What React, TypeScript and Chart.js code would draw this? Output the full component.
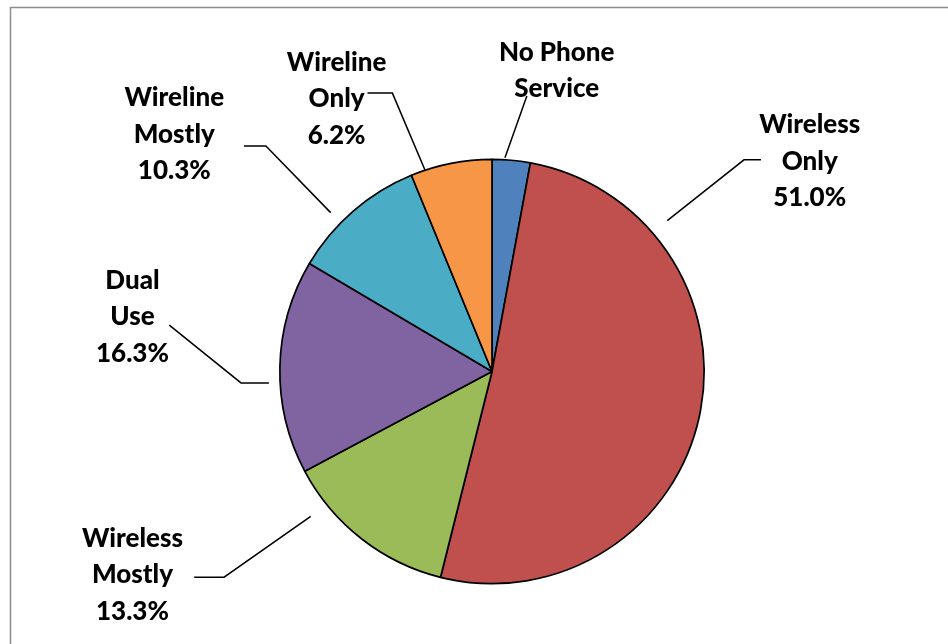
import React, { useEffect, useRef } from "react";
import { Chart, registerables } from "chart.js";

Chart.register(...registerables);

const categories = [
  "No Phone Service",
  "Wireless Only",
  "Wireless Mostly",
  "Dual Use",
  "Wireline Mostly",
  "Wireline Only",
];
const shares = [2.9, 51.0, 13.3, 16.3, 10.3, 6.2];
const labelLines = [
  ["No Phone", "Service"],
  ["Wireless", "Only"],
  ["Wireless", "Mostly"],
  ["Dual", "Use"],
  ["Wireline", "Mostly"],
  ["Wireline", "Only"],
];
const showPercent = [false, true, true, true, true, true];
const sliceColors = ["#4F81BD", "#C0504D", "#9BBB59", "#8064A2", "#4BACC6", "#F79646"];

// label layout, offsets from pie centre in px at reference radius 213
const REF_R = 213;
const labelAnchors: [number, number][] = [
  [65, -320.5],
  [319, -247.5],
  [-361, 167.5],
  [-361, -91.5],
  [-319, -274.5],
  [-156, -310.5],
];
const leaderPaths: [number, number][][] = [
  [[13, -214.5], [35, -276.5]],
  [[176, -151.5], [253, -212.5], [270, -212.5]],
  [[-182, 145.5], [-269, 206.5], [-299, 206.5]],
  [[-224, 11.5], [-252, 11.5], [-324, -46.5]],
  [[-162, -159.5], [-227, -226.5], [-249, -226.5]],
  [[-67, -201.5], [-100, -279.5], [-125, -279.5]],
];

const FONT = "900 26px Lato, 'Open Sans', sans-serif";
const LINE_H = 36.5;

const labelPlugin = {
  id: "pieLabels",
  afterDraw(chart: any) {
    const ctx = chart.ctx;
    const meta = chart.getDatasetMeta(0);
    const arc0 = meta.data[0];
    if (!arc0) return;
    const cx = arc0.x;
    const cy = arc0.y;
    const k = arc0.outerRadius / REF_R;
    ctx.save();
    // frame
    ctx.strokeStyle = "#8c8c8c";
    ctx.lineWidth = 1.5;
    ctx.strokeRect(10.5, 7.5, 2000, 2000);
    // leaders
    ctx.strokeStyle = "#000";
    ctx.lineWidth = 1.5;
    leaderPaths.forEach((path) => {
      ctx.beginPath();
      path.forEach(([dx, dy], i) => {
        const x = cx + dx * k;
        const y = cy + dy * k;
        if (i === 0) ctx.moveTo(x, y);
        else ctx.lineTo(x, y);
      });
      ctx.stroke();
    });
    // text
    ctx.fillStyle = "#000";
    ctx.font = FONT;
    ctx.textAlign = "center";
    ctx.textBaseline = "middle";
    const values = chart.data.datasets[0].data as number[];
    labelLines.forEach((lines, i) => {
      const texts = [...lines];
      if (showPercent[i]) texts.push(values[i].toFixed(1) + "%");
      const [ax, ay] = labelAnchors[i];
      texts.forEach((t, j) => {
        ctx.fillText(t, cx + ax * k, cy + ay * k + j * LINE_H);
      });
    });
    ctx.restore();
  },
};

export default function App() {
  const ref = useRef<HTMLCanvasElement | null>(null);
  useEffect(() => {
    if (!ref.current) return;
    const chart = new Chart(ref.current, {
      type: "pie",
      data: {
        labels: categories,
        datasets: [
          {
            data: shares,
            backgroundColor: sliceColors,
            borderColor: "#000",
            borderWidth: 1.7,
          },
        ],
      },
      options: {
        responsive: false,
        animation: false,
        layout: { padding: { left: 279, top: 158, right: 243, bottom: 59 } },
        plugins: {
          legend: { display: false },
          tooltip: { enabled: false },
        },
      },
      plugins: [labelPlugin],
    });
    return () => chart.destroy();
  }, []);
  return (
    <div style={{ position: "fixed", left: 0, top: 0, width: 948, height: 644, background: "#fff" }}>
      <canvas ref={ref} width={948} height={644} style={{ display: "block" }} />
    </div>
  );
}
